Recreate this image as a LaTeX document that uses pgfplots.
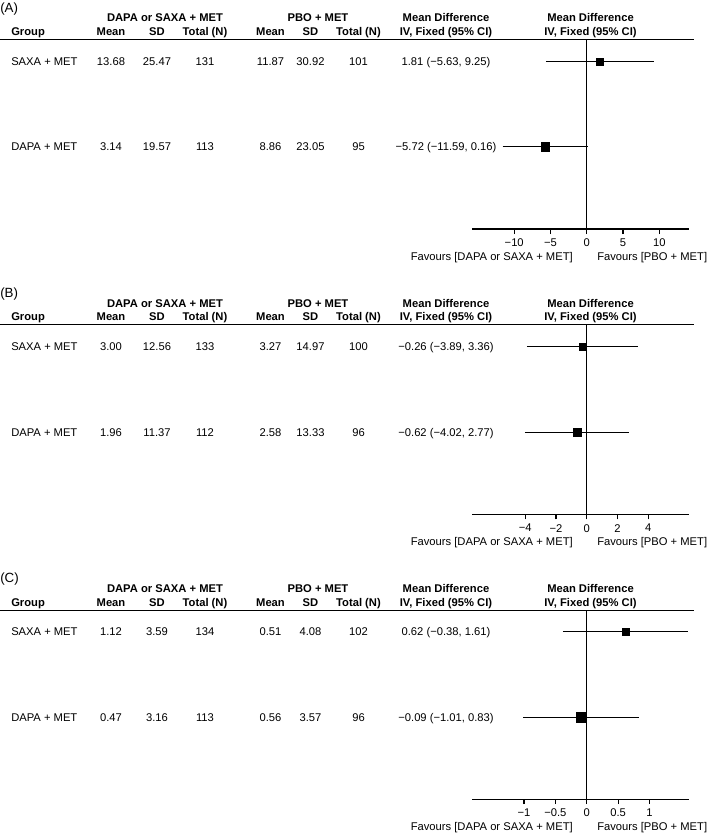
\documentclass[border=0pt]{standalone}
\usepackage{pgfplots}
\pgfplotsset{compat=1.18}
\usepackage{fontspec}
\setmainfont{Liberation Sans}
\begin{document}
\begin{tikzpicture}[
  tx/.style={inner sep=0pt, anchor=base, font=\fontsize{8.4}{10}\selectfont},
  hd/.style={inner sep=0pt, anchor=base, font=\fontsize{8.4}{10}\selectfont\bfseries},
  pl/.style={inner sep=0pt, anchor=base west, font=\fontsize{10}{12}\selectfont}]
\pgfplotsset{fp/.style={
  scale only axis, width=163pt,
  anchor=south west, y dir=reverse,
  axis x line*=bottom, axis y line=none,
  axis line style={-, line width=0.8pt, black},
  tick align=outside, major tick length=3.75pt,
  tick style={line width=0.8pt, black},
  xticklabel style={font=\fontsize{8.4}{10}\selectfont, inner sep=0pt, anchor=north, yshift=-3.5pt},
  clip=false,
}}
\begin{scope}[x=0.75pt,y=-0.75pt]
\useasboundingbox (0,0) rectangle (709,834);
% ================= Panel A =================
\node[pl] at (0,13) {(A)};
\node[hd] at (165,21.5) {DAPA or SAXA + MET};
\node[hd] at (318,21.5) {PBO + MET};
\node[hd] at (446,21.5) {Mean Difference};
\node[hd] at (590.5,21.5) {Mean Difference};
\node[hd, anchor=base west] at (11,36) {Group};
\node[hd] at (111,36) {Mean};
\node[hd] at (157,36) {SD};
\node[hd] at (205,36) {Total (N)};
\node[hd] at (270.5,36) {Mean};
\node[hd] at (310.5,36) {SD};
\node[hd] at (358.5,36) {Total (N)};
\node[hd] at (446,36) {IV, Fixed (95\% CI)};
\node[hd] at (590.5,36) {IV, Fixed (95\% CI)};
\draw[line width=1.1pt] (0,39.5) -- (694,39.5);
\node[tx, anchor=base west] at (11,65.7) {SAXA + MET};
\node[tx] at (111,65.7) {13.68};
\node[tx] at (157,65.7) {25.47};
\node[tx] at (205,65.7) {131};
\node[tx] at (270.5,65.7) {11.87};
\node[tx] at (310.5,65.7) {30.92};
\node[tx] at (358.5,65.7) {101};
\node[tx] at (446,65.7) {1.81 (−5.63, 9.25)};
\node[tx, anchor=base west] at (11,150.7) {DAPA + MET};
\node[tx] at (111,150.7) {3.14};
\node[tx] at (157,150.7) {19.57};
\node[tx] at (205,150.7) {113};
\node[tx] at (270.5,150.7) {8.86};
\node[tx] at (310.5,150.7) {23.05};
\node[tx] at (358.5,150.7) {95};
\node[tx] at (446,150.7) {−5.72 (−11.59, 0.16)};
\node[tx, anchor=base east] at (573,260.5) {Favours [DAPA or SAXA + MET]};
\node[tx, anchor=base west] at (597,260.5) {Favours [PBO + MET]};
% ================= Panel B =================
\node[pl] at (0,297) {(B)};
\node[hd] at (165,307.3) {DAPA or SAXA + MET};
\node[hd] at (318,307.3) {PBO + MET};
\node[hd] at (446,307.3) {Mean Difference};
\node[hd] at (590.5,307.3) {Mean Difference};
\node[hd, anchor=base west] at (11,320.7) {Group};
\node[hd] at (111,320.7) {Mean};
\node[hd] at (157,320.7) {SD};
\node[hd] at (205,320.7) {Total (N)};
\node[hd] at (270.5,320.7) {Mean};
\node[hd] at (310.5,320.7) {SD};
\node[hd] at (358.5,320.7) {Total (N)};
\node[hd] at (446,320.7) {IV, Fixed (95\% CI)};
\node[hd] at (590.5,320.7) {IV, Fixed (95\% CI)};
\draw[line width=1.1pt] (0,324.3) -- (694,324.3);
\node[tx, anchor=base west] at (11,350.5) {SAXA + MET};
\node[tx] at (111,350.5) {3.00};
\node[tx] at (157,350.5) {12.56};
\node[tx] at (205,350.5) {133};
\node[tx] at (270.5,350.5) {3.27};
\node[tx] at (310.5,350.5) {14.97};
\node[tx] at (358.5,350.5) {100};
\node[tx] at (446,350.5) {−0.26 (−3.89, 3.36)};
\node[tx, anchor=base west] at (11,436.5) {DAPA + MET};
\node[tx] at (111,436.5) {1.96};
\node[tx] at (157,436.5) {11.37};
\node[tx] at (205,436.5) {112};
\node[tx] at (270.5,436.5) {2.58};
\node[tx] at (310.5,436.5) {13.33};
\node[tx] at (358.5,436.5) {96};
\node[tx] at (446,436.5) {−0.62 (−4.02, 2.77)};
\node[tx, anchor=base east] at (573,545.7) {Favours [DAPA or SAXA + MET]};
\node[tx, anchor=base west] at (597,545.7) {Favours [PBO + MET]};
% ================= Panel C =================
\node[pl] at (0,582) {(C)};
\node[hd] at (165,592.3) {DAPA or SAXA + MET};
\node[hd] at (318,592.3) {PBO + MET};
\node[hd] at (446,592.3) {Mean Difference};
\node[hd] at (590.5,592.3) {Mean Difference};
\node[hd, anchor=base west] at (11,606.7) {Group};
\node[hd] at (111,606.7) {Mean};
\node[hd] at (157,606.7) {SD};
\node[hd] at (205,606.7) {Total (N)};
\node[hd] at (270.5,606.7) {Mean};
\node[hd] at (310.5,606.7) {SD};
\node[hd] at (358.5,606.7) {Total (N)};
\node[hd] at (446,606.7) {IV, Fixed (95\% CI)};
\node[hd] at (590.5,606.7) {IV, Fixed (95\% CI)};
\draw[line width=1.1pt] (0,610.7) -- (694,610.7);
\node[tx, anchor=base west] at (11,635.5) {SAXA + MET};
\node[tx] at (111,635.5) {1.12};
\node[tx] at (157,635.5) {3.59};
\node[tx] at (205,635.5) {134};
\node[tx] at (270.5,635.5) {0.51};
\node[tx] at (310.5,635.5) {4.08};
\node[tx] at (358.5,635.5) {102};
\node[tx] at (446,635.5) {0.62 (−0.38, 1.61)};
\node[tx, anchor=base west] at (11,721.3) {DAPA + MET};
\node[tx] at (111,721.3) {0.47};
\node[tx] at (157,721.3) {3.16};
\node[tx] at (205,721.3) {113};
\node[tx] at (270.5,721.3) {0.56};
\node[tx] at (310.5,721.3) {3.57};
\node[tx] at (358.5,721.3) {96};
\node[tx] at (446,721.3) {−0.09 (−1.01, 0.83)};
\node[tx, anchor=base east] at (573,830) {Favours [DAPA or SAXA + MET]};
\node[tx, anchor=base west] at (597,830) {Favours [PBO + MET]};
\end{scope}
% ================= Axes =================
\begin{axis}[fp, at={(354pt,-171.75pt)}, height=142.1pt,
  xmin=-15.82, xmax=14.15, ymin=39.5, ymax=229,
  xtick={-10,-5,0,5,10}, xticklabels={−10,−5,0,5,10}]
\addplot[black, line width=0.8pt] coordinates {(0,39.5) (0,229)};
\addplot[black, line width=0.8pt] coordinates {(-5.63,61.7) (9.25,61.7)};
\addplot[black, line width=0.8pt] coordinates {(-11.59,146.7) (0.16,146.7)};
\addplot[only marks, mark=square*, mark size=2.74pt, black] coordinates {(1.81,61.7)};
\addplot[only marks, mark=square*, mark size=3.26pt, black] coordinates {(-5.72,146.7)};
\end{axis}
\begin{axis}[fp, at={(354pt,-385.725pt)}, height=142.5pt,
  xmin=-7.46, xmax=6.67, ymin=324.3, ymax=514.3,
  xtick={-4,-2,0,2,4}, xticklabels={−4,−2,0,2,4}]
\addplot[black, line width=0.8pt] coordinates {(0,324.3) (0,514.3)};
\addplot[black, line width=0.8pt] coordinates {(-3.89,346.5) (3.36,346.5)};
\addplot[black, line width=0.8pt] coordinates {(-4.02,432.5) (2.77,432.5)};
\addplot[only marks, mark=square*, mark size=2.74pt, black] coordinates {(-0.26,346.5)};
\addplot[only marks, mark=square*, mark size=2.89pt, black] coordinates {(-0.62,432.5)};
\end{axis}
\begin{axis}[fp, at={(354pt,-599.4pt)}, height=141.4pt,
  xmin=-1.829, xmax=1.636, ymin=610.7, ymax=799.2,
  xtick={-1,-0.5,0,0.5,1}, xticklabels={−1,−0.5,0,0.5,1}]
\addplot[black, line width=0.8pt] coordinates {(0,610.7) (0,799.2)};
\addplot[black, line width=0.8pt] coordinates {(-0.38,631.5) (1.61,631.5)};
\addplot[black, line width=0.8pt] coordinates {(-1.01,717.3) (0.83,717.3)};
\addplot[only marks, mark=square*, mark size=2.51pt, black] coordinates {(0.62,631.5)};
\addplot[only marks, mark=square*, mark size=3.49pt, black] coordinates {(-0.09,717.3)};
\end{axis}
\end{tikzpicture}
\end{document}
